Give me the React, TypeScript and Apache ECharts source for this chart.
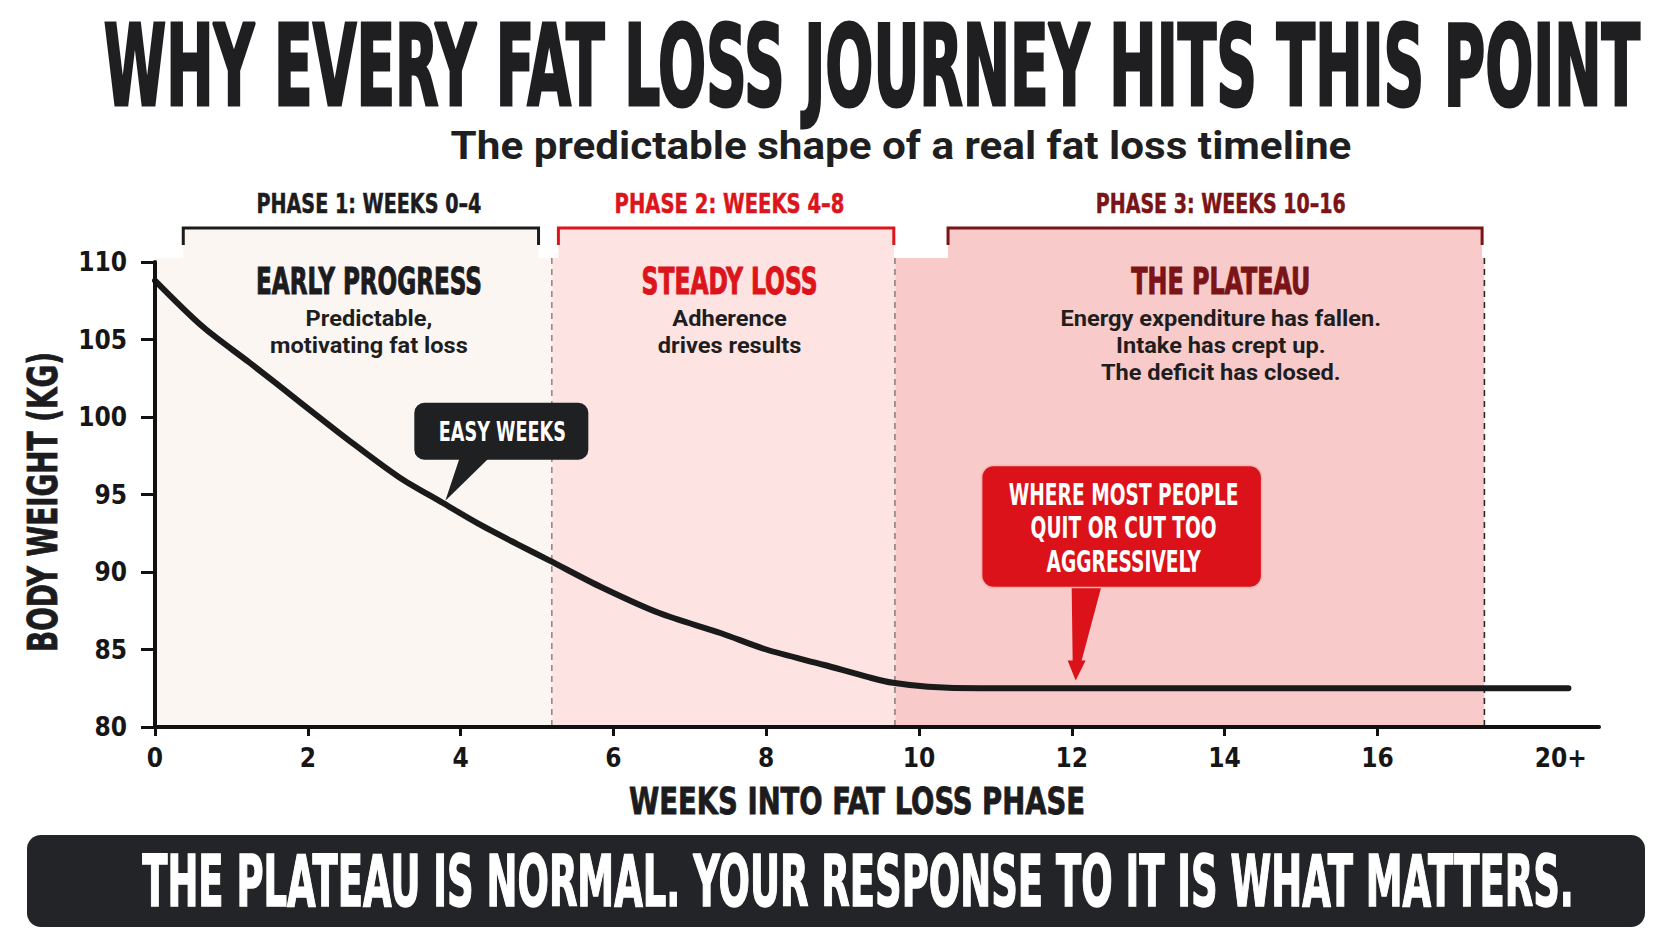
import React, { useEffect, useRef } from "react";
import * as echarts from "echarts";

// body weight curve
const weeks = [0, 0.63, 1.24, 1.9, 2.55, 3.2, 3.77, 4.22, 4.74, 5.16, 5.83, 6.6, 7.41, 8.0, 8.76, 9.35, 9.66, 10.12, 10.8, 18.5];
const weightKg = [108.8, 105.8, 103.5, 100.95, 98.45, 96.1, 94.45, 93.15, 91.8, 90.75, 89.05, 87.35, 86.05, 85.0, 84.0, 83.2, 82.85, 82.6, 82.5, 82.5];

const xTickValues = [0, 2, 4, 6, 8, 10, 12, 14, 16];
const xLabelValues = [0, 2, 4, 6, 8, 10, 12, 14, 16, 18.4];
const lastLabel = "20+";

// phases
const phaseLabels = ["PHASE 1: WEEKS 0–4", "PHASE 2: WEEKS 4–8", "PHASE 3: WEEKS 10–16"];
const phaseTitles = ["EARLY PROGRESS", "STEADY LOSS", "THE PLATEAU"];
const phaseNotes = [
  ["Predictable,", "motivating fat loss"],
  ["Adherence", "drives results"],
  ["Energy expenditure has fallen.", "Intake has crept up.", "The deficit has closed."],
];
const phaseFrom = [0, 5.2, 9.69];
const phaseTo = [5.2, 9.69, 17.4];
const bracketFrom = [0.37, 5.28, 10.38];
const bracketTo = [5.02, 9.67, 17.37];
const phaseCenter = [2.8, 7.52, 13.95];
const phaseFill = ["#fcf6f3", "#fde3e2", "#f8caca"];
const phaseInk = ["#1c1c1e", "#dc151c", "#7a1416"];

// callouts (tip positions in week / kg)
const easyWeeksAt = [3.8, 94.6];
const quitAt = [12.05, 83.0];
const quitLines = ["WHERE MOST PEOPLE", "QUIT OR CUT TOO", "AGGRESSIVELY"];

const TITLE = "WHY EVERY FAT LOSS JOURNEY HITS THIS POINT";
const SUBTITLE = "The predictable shape of a real fat loss timeline";
const BANNER = "THE PLATEAU IS NORMAL. YOUR RESPONSE TO IT IS WHAT MATTERS.";
const X_NAME = "WEEKS INTO FAT LOSS PHASE";
const Y_NAME = "BODY WEIGHT (KG)";

const NARROW = '"Liberation Sans Narrow", "DejaVu Sans Condensed", "Arial Narrow", sans-serif';
const SANS = 'Roboto, "Noto Sans", "DejaVu Sans", sans-serif';
const INK = "#1c1c1e";

const App = () => {
  const chartRef = useRef<HTMLDivElement | null>(null);

  useEffect(() => {
    const ctx = document.createElement("canvas").getContext("2d");
    // scaleX that squeezes a text to the width seen in the picture
    const fit = (text: string, font: string, width: number) => {
      if (!ctx) return 1;
      ctx.font = font;
      const w = ctx.measureText(text).width;
      return w > 0 ? width / w : 1;
    };
    const txt = (x: number, y: number, text: string, font: string, fill: string, sx = 1, extra: any = {}) => ({
      type: "text",
      x,
      y,
      scaleX: sx,
      style: {
        text,
        font,
        fill,
        textAlign: "center",
        textVerticalAlign: "middle",
        align: "center",
        verticalAlign: "middle",
        ...extra,
      },
    });

    const labelFont = `bold 27px ${NARROW}`;
    const labelWidths = [225, 230, 250];
    const titleFont = `bold 37px ${NARROW}`;
    const titleWidths = [226, 176, 179];
    const noteFont = `bold 22px ${SANS}`;
    const noteScale = fit("Energy expenditure has fallen.", noteFont, 321);
    const easyFont = `bold 27px ${NARROW}`;
    const easyScale = fit("EASY WEEKS", easyFont, 127);
    const quitFont = `bold 31px ${NARROW}`;
    const quitScale = fit(quitLines[0], quitFont, 230);
    const xNameFont = `bold 37px ${NARROW}`;
    const yNameFont = `bold 40px ${NARROW}`;

    const chart = echarts.init(chartRef.current as HTMLDivElement, null, { renderer: "svg" });

    const options: any = {
      animation: false,
      backgroundColor: "#ffffff",
      textStyle: { fontFamily: NARROW },
      grid: { left: 155, right: 73, top: 262, bottom: 214, outerBoundsMode: "none" },
      xAxis: {
        type: "value",
        min: 0,
        max: 18.9,
        interval: 2,
        z: 10,
        axisLine: { show: true, lineStyle: { color: "#111", width: 4, cap: "round" } },
        axisTick: { show: true, length: 9, lineStyle: { color: "#111", width: 3 }, customValues: xTickValues },
        axisLabel: {
          customValues: xLabelValues,
          formatter: (v: number) => (v > 17 ? lastLabel : String(v)),
          fontSize: 26,
          fontWeight: "bold",
          fontFamily: NARROW,
          color: "#161616",
          margin: 18,
        },
        splitLine: { show: false },
      },
      yAxis: {
        type: "value",
        min: 80,
        max: 110,
        interval: 5,
        z: 10,
        axisLine: { show: true, lineStyle: { color: "#111", width: 4 } },
        axisTick: { show: true, length: 14, lineStyle: { color: "#111", width: 3 } },
        axisLabel: { fontSize: 26, fontWeight: "bold", fontFamily: NARROW, color: "#161616", margin: 28 },
        splitLine: { show: false },
      },
      graphic: [
        txt(872, 66, TITLE, `bold 112px ${NARROW}`, "#1f1f21", fit(TITLE, `bold 112px ${NARROW}`, 1536), {
          stroke: "#1f1f21",
          lineWidth: 3,
        }),
        txt(901, 146, SUBTITLE, `bold 39px ${SANS}`, "#1f1f21", fit(SUBTITLE, `bold 39px ${SANS}`, 901)),
        txt(857, 801, X_NAME, xNameFont, INK, fit(X_NAME, xNameFont, 456), { stroke: INK, lineWidth: 0.8 }),
        {
          ...txt(43, 502, Y_NAME, yNameFont, INK, fit(Y_NAME, yNameFont, 300), { stroke: INK, lineWidth: 0.8 }),
          rotation: Math.PI / 2,
        },
        {
          type: "rect",
          shape: { x: 27, y: 835, width: 1618, height: 92, r: 14 },
          style: { fill: "#232427" },
        },
        txt(858, 881, BANNER, `bold 72px ${NARROW}`, "#ffffff", fit(BANNER, `bold 72px ${NARROW}`, 1431), {
          stroke: "#ffffff",
          lineWidth: 1.5,
        }),
      ],
      series: [
        {
          type: "custom",
          name: "phases",
          z: 1,
          clip: false,
          silent: true,
          encode: { x: [0, 1], y: 2 },
          data: phaseFrom.map((f, i) => [f, phaseTo[i], 80]),
          renderItem: (params: any, api: any) => {
            const i = params.dataIndex;
            const [x0, yTop] = api.coord([phaseFrom[i], 110.26]);
            const [x1, yBottom] = api.coord([phaseTo[i], 80]);
            const [b0, bTop] = api.coord([bracketFrom[i], 112.2]);
            const [b1] = api.coord([bracketTo[i], 112.2]);
            const [cx] = api.coord([phaseCenter[i], 80]);
            const children: any[] = [
              {
                type: "rect",
                shape: { x: x0, y: yTop, width: x1 - x0, height: yBottom - yTop },
                style: { fill: phaseFill[i] },
              },
              {
                type: "rect",
                shape: { x: b0, y: bTop, width: b1 - b0, height: yTop - bTop },
                style: { fill: phaseFill[i] },
              },
              {
                type: "polyline",
                shape: { points: [[b0, bTop + 17], [b0, bTop], [b1, bTop], [b1, bTop + 17]] },
                style: { stroke: phaseInk[i], lineWidth: 3, fill: null },
              },
              {
                type: "line",
                shape: { x1: x1, y1: yTop, x2: x1, y2: yBottom },
                style: { stroke: "#2a2a2a", lineWidth: 1.6, lineDash: [6, 5] },
              },
              txt(cx, bTop - 24, phaseLabels[i], labelFont, phaseInk[i], fit(phaseLabels[i], labelFont, labelWidths[i]), {
                stroke: phaseInk[i],
                lineWidth: 0.5,
              }),
              txt(cx, bTop + 53, phaseTitles[i], titleFont, phaseInk[i], fit(phaseTitles[i], titleFont, titleWidths[i]), {
                stroke: phaseInk[i],
                lineWidth: 1,
              }),
            ];
            phaseNotes[i].forEach((line, k) => {
              children.push(txt(cx, bTop + 91 + k * 27, line, noteFont, "#1e1e1e", noteScale));
            });
            return { type: "group", children };
          },
        },
        {
          type: "line",
          name: "body weight",
          z: 3,
          data: weeks.map((w, i) => [w, weightKg[i]]),
          showSymbol: false,
          smooth: 0.3,
          lineStyle: { color: "#1a1a1a", width: 6, cap: "round", join: "round" },
        },
        {
          type: "custom",
          name: "callouts",
          z: 5,
          clip: false,
          silent: true,
          encode: { x: 0, y: 1 },
          data: [easyWeeksAt, quitAt],
          renderItem: (params: any, api: any) => {
            const [tx, ty] = api.coord([api.value(0), api.value(1)]);
            if (params.dataIndex === 0) {
              return {
                type: "group",
                children: [
                  {
                    type: "polygon",
                    shape: { points: [[tx + 15, ty - 45], [tx + 46, ty - 45], [tx, ty]] },
                    style: { fill: "#1f2022" },
                  },
                  {
                    type: "rect",
                    shape: { x: tx - 31, y: ty - 98, width: 174, height: 57, r: 10 },
                    style: { fill: "#1f2022" },
                  },
                  txt(tx + 57, ty - 69, "EASY WEEKS", easyFont, "#ffffff", easyScale),
                ],
              };
            }
            return {
              type: "group",
              children: [
                {
                  type: "polygon",
                  shape: {
                    points: [
                      [tx - 4, ty - 95],
                      [tx + 26, ty - 95],
                      [tx + 6, ty - 20],
                      [tx + 10, ty - 20],
                      [tx, ty],
                      [tx - 8, ty - 20],
                      [tx - 3, ty - 20],
                    ],
                  },
                  style: { fill: "#db1219" },
                },
                {
                  type: "rect",
                  shape: { x: tx - 94, y: ty - 215, width: 280, height: 122, r: 12 },
                  style: { fill: "#db1219", stroke: "#f4b3b3", lineWidth: 1.5 },
                },
                ...quitLines.map((line, k) =>
                  txt(tx + 48, ty - 186.5 + k * 33.7, line, quitFont, "#ffffff", quitScale)
                ),
              ],
            };
          },
        },
      ],
    };

    chart.setOption(options);
    return () => {
      chart.dispose();
    };
  }, []);

  return (
    <div
      ref={chartRef}
      style={{ position: "absolute", left: 0, top: 0, width: 1672, height: 941 }}
    ></div>
  );
};

export default App;
